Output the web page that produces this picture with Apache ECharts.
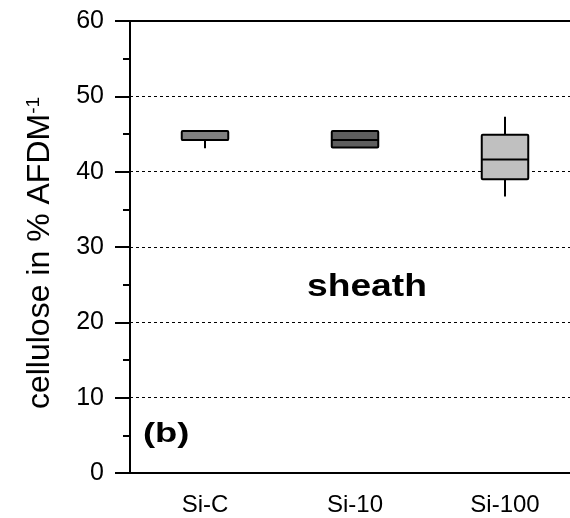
<!DOCTYPE html>
<html>
<head>
<meta charset="utf-8">
<script src="https://cdn.jsdelivr.net/npm/echarts@6/dist/echarts.min.js"></script>
<style>
html, body { margin: 0; padding: 0; background: #fff; overflow: hidden; }
#chart { width: 580px; height: 518px; }
</style>
</head>
<body>
<div id="chart"></div>
<script>
// categories and box statistics: [min, q1, median, q3, max]
const categories = ["Si-C", "Si-10", "Si-100"];
const boxStats = [
    [43.1, 44.2, 44.2, 45.4, 45.4],
    [43.2, 43.2, 44.2, 45.4, 45.4],
    [36.7, 39.0, 41.6, 44.9, 47.3]
];
const yTicks = [0, 10, 20, 30, 40, 50, 60];

const boxColors = ["#808080", "#5e5e5e", "#c0c0c0"];
const font = "'Liberation Sans', Arial, sans-serif";

const chart = echarts.init(document.getElementById("chart"));

function renderBox(params, api) {
    const idx = api.value(0);
    const w = api.size([1, 0])[0] * 0.31;
    const lo = api.coord([idx, api.value(1)]);
    const q1 = api.coord([idx, api.value(2)]);
    const md = api.coord([idx, api.value(3)]);
    const q3 = api.coord([idx, api.value(4)]);
    const hi = api.coord([idx, api.value(5)]);
    const x = lo[0];
    const stroke = { stroke: "#000", lineWidth: 2 };
    return {
        type: "group",
        children: [
            { type: "line", shape: { x1: x, y1: hi[1], x2: x, y2: q3[1] }, style: stroke },
            { type: "line", shape: { x1: x, y1: q1[1], x2: x, y2: lo[1] }, style: stroke },
            {
                type: "rect",
                shape: { x: x - w / 2, y: q3[1], width: w, height: q1[1] - q3[1], r: 1 },
                style: { fill: boxColors[idx], stroke: "#000", lineWidth: 2 }
            },
            { type: "line", shape: { x1: x - w / 2, y1: md[1], x2: x + w / 2, y2: md[1] }, style: stroke }
        ]
    };
}

chart.setOption({
    animation: false,
    grid: { left: 130, right: 0, top: 21, bottom: 45 },
    xAxis: [
        {
            type: "category",
            data: categories,
            axisLine: { lineStyle: { color: "#000", width: 2 } },
            axisTick: { show: false },
            axisLabel: { color: "#000", fontSize: 24, fontFamily: font, margin: 20 }
        },
        {
            type: "category",
            position: "top",
            data: categories,
            axisLine: { show: true, lineStyle: { color: "#000", width: 2 } },
            axisTick: { show: false },
            axisLabel: { show: false }
        }
    ],
    yAxis: {
        type: "value",
        min: 0,
        max: 60,
        interval: 10,
        name: "{a|cellulose in % AFDM}{s|-1}",
        nameLocation: "middle",
        nameGap: 73,
        nameTextStyle: {
            padding: [0, 12, 0, 0],
            rich: {
                a: { fontSize: 32, fontFamily: font, color: "#000" },
                s: { fontSize: 19, fontFamily: font, color: "#000", verticalAlign: "top", padding: [0, 0, 14, 0] }
            }
        },
        axisLine: { show: true, lineStyle: { color: "#000", width: 2 } },
        axisTick: { show: true, length: 15, lineStyle: { color: "#000", width: 2 } },
        minorTick: { show: true, splitNumber: 2, length: 7, lineStyle: { color: "#000", width: 2 } },
        axisLabel: {
            color: "#000", fontSize: 25, fontFamily: font, margin: 26,
            formatter: function (v) { return yTicks.indexOf(v) >= 0 ? String(v) : ""; }
        },
        splitLine: { show: true, lineStyle: { color: "#000", width: 1, type: [3, 3] } }
    },
    graphic: [
        {
            type: "text", x: 307, y: 272, scaleX: 1.2,
            style: { text: "sheath", font: "bold 31px " + font, fill: "#000" }
        },
        {
            type: "text", x: 143, y: 420, scaleX: 1.3,
            style: { text: "(b)", font: "bold 28px " + font, fill: "#000" }
        }
    ],
    series: [
        {
            type: "custom",
            renderItem: renderBox,
            encode: { x: 0, y: [1, 2, 3, 4, 5] },
            data: boxStats.map(function (s, i) { return [i].concat(s); })
        }
    ]
});
</script>
</body>
</html>
